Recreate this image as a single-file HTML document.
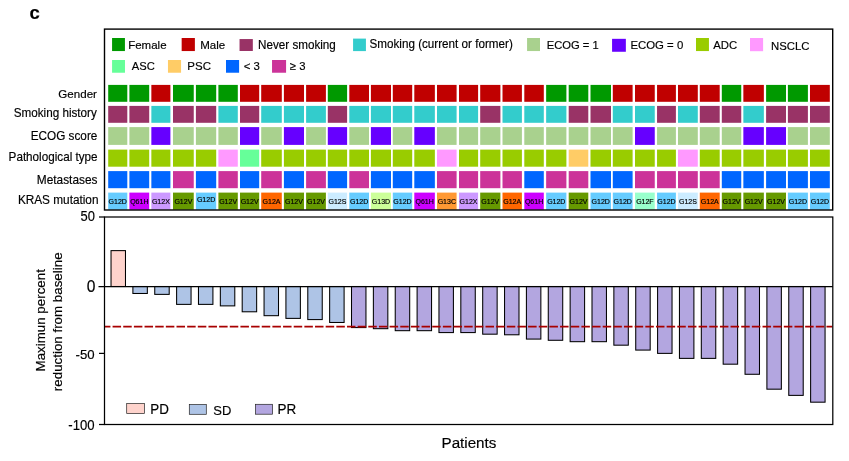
<!DOCTYPE html>
<html lang="en"><head><meta charset="utf-8"><title>Figure c</title>
<style>html,body{margin:0;padding:0;background:#fff}svg{display:block}text{font-family:'Liberation Sans', sans-serif;fill:#000;stroke:#000;stroke-width:0.16px}</style>
</head><body>
<svg width="849" height="461" viewBox="0 0 849 461">
<rect width="849" height="461" fill="#fff"/>
<text transform="translate(29.40,18.95) scale(1,1.01)" font-size="18.5" stroke-width="0" font-weight="bold">c</text>
<rect x="112.07" y="38.00" width="12.86" height="13.06" fill="#009900"/>
<text transform="translate(128.21,48.75) scale(1,1.02)" font-size="11.5">Female</text>
<rect x="181.66" y="38.00" width="13.22" height="13.06" fill="#C00000"/>
<text transform="translate(200.18,48.85) scale(1,1.02)" font-size="11.55">Male</text>
<rect x="239.54" y="39.05" width="13.29" height="11.95" fill="#993366"/>
<text transform="translate(258.12,48.70) scale(1,1.02)" font-size="11.67">Never smoking</text>
<rect x="353.08" y="38.60" width="12.84" height="12.50" fill="#33CCCC"/>
<text transform="translate(369.52,48.00) scale(1,1.02)" font-size="11.68">Smoking (current or former)</text>
<rect x="527.07" y="38.00" width="12.93" height="13.06" fill="#A9D18E"/>
<text transform="translate(546.73,48.90) scale(1,1.02)" font-size="11.2">ECOG = 1</text>
<rect x="612.07" y="38.83" width="13.78" height="12.94" fill="#6600FF"/>
<text transform="translate(630.41,48.85) scale(1,1.02)" font-size="11.39">ECOG = 0</text>
<rect x="696.00" y="38.00" width="12.94" height="13.06" fill="#99CC00"/>
<text transform="translate(713.30,48.90) scale(1,1.02)" font-size="11.35">ADC</text>
<rect x="750.00" y="38.00" width="13.10" height="13.20" fill="#FF99FF"/>
<text transform="translate(770.98,49.50) scale(1,1.02)" font-size="11.36">NSCLC</text>
<rect x="112.07" y="60.00" width="12.91" height="12.73" fill="#66FF99"/>
<text transform="translate(131.80,69.90) scale(1,1.02)" font-size="11.2">ASC</text>
<rect x="167.96" y="60.00" width="13.10" height="12.73" fill="#FFCC66"/>
<text transform="translate(187.30,69.90) scale(1,1.02)" font-size="11.5">PSC</text>
<rect x="226.00" y="60.00" width="13.10" height="12.73" fill="#0066FF"/>
<text transform="translate(243.63,69.90) scale(1,1.02)" font-size="11.36">&lt; 3</text>
<rect x="272.04" y="60.00" width="14.04" height="12.73" fill="#CC3399"/>
<text transform="translate(289.83,69.90) scale(1,1.02)" font-size="11.3">≥ 3</text>
<text transform="translate(58.37,97.80) scale(1,1.02)" font-size="11.59">Gender</text>
<text transform="translate(13.72,117.40) scale(1,1.02)" font-size="11.7">Smoking history</text>
<text transform="translate(30.78,139.70) scale(1,1.02)" font-size="11.75">ECOG score</text>
<text transform="translate(8.59,161.00) scale(1,1.02)" font-size="11.7">Pathological type</text>
<text transform="translate(36.77,183.70) scale(1,1.02)" font-size="11.89">Metastases</text>
<text transform="translate(17.88,203.70) scale(1,1.02)" font-size="11.81">KRAS mutation</text>
<g>
<rect x="108.20" y="84.9" width="19.10" height="16.9" fill="#009900"/>
<rect x="129.40" y="84.9" width="19.80" height="16.9" fill="#009900"/>
<rect x="151.35" y="84.9" width="19.05" height="16.9" fill="#C00000"/>
<rect x="173.00" y="84.9" width="20.75" height="16.9" fill="#009900"/>
<rect x="195.90" y="84.9" width="20.30" height="16.9" fill="#009900"/>
<rect x="218.40" y="84.9" width="19.40" height="16.9" fill="#009900"/>
<rect x="240.00" y="84.9" width="19.20" height="16.9" fill="#C00000"/>
<rect x="261.20" y="84.9" width="20.60" height="16.9" fill="#C00000"/>
<rect x="283.90" y="84.9" width="20.10" height="16.9" fill="#C00000"/>
<rect x="306.10" y="84.9" width="19.80" height="16.9" fill="#C00000"/>
<rect x="327.80" y="84.9" width="19.30" height="16.9" fill="#009900"/>
<rect x="349.30" y="84.9" width="19.70" height="16.9" fill="#C00000"/>
<rect x="370.90" y="84.9" width="20.10" height="16.9" fill="#C00000"/>
<rect x="392.80" y="84.9" width="19.40" height="16.9" fill="#C00000"/>
<rect x="414.30" y="84.9" width="20.55" height="16.9" fill="#C00000"/>
<rect x="437.00" y="84.9" width="19.60" height="16.9" fill="#C00000"/>
<rect x="459.00" y="84.9" width="19.10" height="16.9" fill="#C00000"/>
<rect x="480.20" y="84.9" width="20.20" height="16.9" fill="#C00000"/>
<rect x="502.50" y="84.9" width="19.40" height="16.9" fill="#C00000"/>
<rect x="524.30" y="84.9" width="19.50" height="16.9" fill="#C00000"/>
<rect x="546.15" y="84.9" width="20.25" height="16.9" fill="#009900"/>
<rect x="568.70" y="84.9" width="19.60" height="16.9" fill="#009900"/>
<rect x="590.50" y="84.9" width="20.50" height="16.9" fill="#009900"/>
<rect x="612.80" y="84.9" width="19.80" height="16.9" fill="#C00000"/>
<rect x="635.00" y="84.9" width="19.75" height="16.9" fill="#C00000"/>
<rect x="657.05" y="84.9" width="18.85" height="16.9" fill="#C00000"/>
<rect x="678.00" y="84.9" width="19.80" height="16.9" fill="#C00000"/>
<rect x="699.80" y="84.9" width="19.90" height="16.9" fill="#C00000"/>
<rect x="721.80" y="84.9" width="19.45" height="16.9" fill="#009900"/>
<rect x="743.35" y="84.9" width="20.50" height="16.9" fill="#C00000"/>
<rect x="766.10" y="84.9" width="19.90" height="16.9" fill="#009900"/>
<rect x="787.90" y="84.9" width="20.00" height="16.9" fill="#009900"/>
<rect x="810.00" y="84.9" width="19.80" height="16.9" fill="#C00000"/>
</g>
<g>
<rect x="108.20" y="105.9" width="19.10" height="16.9" fill="#993366"/>
<rect x="129.40" y="105.9" width="19.80" height="16.9" fill="#993366"/>
<rect x="151.35" y="105.9" width="19.05" height="16.9" fill="#33CCCC"/>
<rect x="173.00" y="105.9" width="20.75" height="16.9" fill="#993366"/>
<rect x="195.90" y="105.9" width="20.30" height="16.9" fill="#993366"/>
<rect x="218.40" y="105.9" width="19.40" height="16.9" fill="#33CCCC"/>
<rect x="240.00" y="105.9" width="19.20" height="16.9" fill="#993366"/>
<rect x="261.20" y="105.9" width="20.60" height="16.9" fill="#33CCCC"/>
<rect x="283.90" y="105.9" width="20.10" height="16.9" fill="#33CCCC"/>
<rect x="306.10" y="105.9" width="19.80" height="16.9" fill="#33CCCC"/>
<rect x="327.80" y="105.9" width="19.30" height="16.9" fill="#993366"/>
<rect x="349.30" y="105.9" width="19.70" height="16.9" fill="#33CCCC"/>
<rect x="370.90" y="105.9" width="20.10" height="16.9" fill="#33CCCC"/>
<rect x="392.80" y="105.9" width="19.40" height="16.9" fill="#33CCCC"/>
<rect x="414.30" y="105.9" width="20.55" height="16.9" fill="#33CCCC"/>
<rect x="437.00" y="105.9" width="19.60" height="16.9" fill="#33CCCC"/>
<rect x="459.00" y="105.9" width="19.10" height="16.9" fill="#33CCCC"/>
<rect x="480.20" y="105.9" width="20.20" height="16.9" fill="#993366"/>
<rect x="502.50" y="105.9" width="19.40" height="16.9" fill="#33CCCC"/>
<rect x="524.30" y="105.9" width="19.50" height="16.9" fill="#33CCCC"/>
<rect x="546.15" y="105.9" width="20.25" height="16.9" fill="#33CCCC"/>
<rect x="568.70" y="105.9" width="19.60" height="16.9" fill="#993366"/>
<rect x="590.50" y="105.9" width="20.50" height="16.9" fill="#993366"/>
<rect x="612.80" y="105.9" width="19.80" height="16.9" fill="#33CCCC"/>
<rect x="635.00" y="105.9" width="19.75" height="16.9" fill="#33CCCC"/>
<rect x="657.05" y="105.9" width="18.85" height="16.9" fill="#993366"/>
<rect x="678.00" y="105.9" width="19.80" height="16.9" fill="#33CCCC"/>
<rect x="699.80" y="105.9" width="19.90" height="16.9" fill="#993366"/>
<rect x="721.80" y="105.9" width="19.45" height="16.9" fill="#993366"/>
<rect x="743.35" y="105.9" width="20.50" height="16.9" fill="#33CCCC"/>
<rect x="766.10" y="105.9" width="19.90" height="16.9" fill="#993366"/>
<rect x="787.90" y="105.9" width="20.00" height="16.9" fill="#993366"/>
<rect x="810.00" y="105.9" width="19.80" height="16.9" fill="#993366"/>
</g>
<g>
<rect x="108.20" y="127.1" width="19.10" height="17.8" fill="#A9D18E"/>
<rect x="129.40" y="127.1" width="19.80" height="17.8" fill="#A9D18E"/>
<rect x="151.35" y="127.1" width="19.05" height="17.8" fill="#6600FF"/>
<rect x="173.00" y="127.1" width="20.75" height="17.8" fill="#A9D18E"/>
<rect x="195.90" y="127.1" width="20.30" height="17.8" fill="#A9D18E"/>
<rect x="218.40" y="127.1" width="19.40" height="17.8" fill="#A9D18E"/>
<rect x="240.00" y="127.1" width="19.20" height="17.8" fill="#6600FF"/>
<rect x="261.20" y="127.1" width="20.60" height="17.8" fill="#A9D18E"/>
<rect x="283.90" y="127.1" width="20.10" height="17.8" fill="#6600FF"/>
<rect x="306.10" y="127.1" width="19.80" height="17.8" fill="#A9D18E"/>
<rect x="327.80" y="127.1" width="19.30" height="17.8" fill="#6600FF"/>
<rect x="349.30" y="127.1" width="19.70" height="17.8" fill="#A9D18E"/>
<rect x="370.90" y="127.1" width="20.10" height="17.8" fill="#6600FF"/>
<rect x="392.80" y="127.1" width="19.40" height="17.8" fill="#A9D18E"/>
<rect x="414.30" y="127.1" width="20.55" height="17.8" fill="#6600FF"/>
<rect x="437.00" y="127.1" width="19.60" height="17.8" fill="#A9D18E"/>
<rect x="459.00" y="127.1" width="19.10" height="17.8" fill="#A9D18E"/>
<rect x="480.20" y="127.1" width="20.20" height="17.8" fill="#A9D18E"/>
<rect x="502.50" y="127.1" width="19.40" height="17.8" fill="#A9D18E"/>
<rect x="524.30" y="127.1" width="19.50" height="17.8" fill="#A9D18E"/>
<rect x="546.15" y="127.1" width="20.25" height="17.8" fill="#A9D18E"/>
<rect x="568.70" y="127.1" width="19.60" height="17.8" fill="#A9D18E"/>
<rect x="590.50" y="127.1" width="20.50" height="17.8" fill="#A9D18E"/>
<rect x="612.80" y="127.1" width="19.80" height="17.8" fill="#A9D18E"/>
<rect x="635.00" y="127.1" width="19.75" height="17.8" fill="#6600FF"/>
<rect x="657.05" y="127.1" width="18.85" height="17.8" fill="#A9D18E"/>
<rect x="678.00" y="127.1" width="19.80" height="17.8" fill="#A9D18E"/>
<rect x="699.80" y="127.1" width="19.90" height="17.8" fill="#A9D18E"/>
<rect x="721.80" y="127.1" width="19.45" height="17.8" fill="#A9D18E"/>
<rect x="743.35" y="127.1" width="20.50" height="17.8" fill="#6600FF"/>
<rect x="766.10" y="127.1" width="19.90" height="17.8" fill="#6600FF"/>
<rect x="787.90" y="127.1" width="20.00" height="17.8" fill="#A9D18E"/>
<rect x="810.00" y="127.1" width="19.80" height="17.8" fill="#A9D18E"/>
</g>
<g>
<rect x="108.20" y="149.6" width="19.10" height="17.1" fill="#99CC00"/>
<rect x="129.40" y="149.6" width="19.80" height="17.1" fill="#99CC00"/>
<rect x="151.35" y="149.6" width="19.05" height="17.1" fill="#99CC00"/>
<rect x="173.00" y="149.6" width="20.75" height="17.1" fill="#99CC00"/>
<rect x="195.90" y="149.6" width="20.30" height="17.1" fill="#99CC00"/>
<rect x="218.40" y="149.6" width="19.40" height="17.1" fill="#FF99FF"/>
<rect x="240.00" y="149.6" width="19.20" height="17.1" fill="#66FF99"/>
<rect x="261.20" y="149.6" width="20.60" height="17.1" fill="#99CC00"/>
<rect x="283.90" y="149.6" width="20.10" height="17.1" fill="#99CC00"/>
<rect x="306.10" y="149.6" width="19.80" height="17.1" fill="#99CC00"/>
<rect x="327.80" y="149.6" width="19.30" height="17.1" fill="#99CC00"/>
<rect x="349.30" y="149.6" width="19.70" height="17.1" fill="#99CC00"/>
<rect x="370.90" y="149.6" width="20.10" height="17.1" fill="#99CC00"/>
<rect x="392.80" y="149.6" width="19.40" height="17.1" fill="#99CC00"/>
<rect x="414.30" y="149.6" width="20.55" height="17.1" fill="#99CC00"/>
<rect x="437.00" y="149.6" width="19.60" height="17.1" fill="#FF99FF"/>
<rect x="459.00" y="149.6" width="19.10" height="17.1" fill="#99CC00"/>
<rect x="480.20" y="149.6" width="20.20" height="17.1" fill="#99CC00"/>
<rect x="502.50" y="149.6" width="19.40" height="17.1" fill="#99CC00"/>
<rect x="524.30" y="149.6" width="19.50" height="17.1" fill="#99CC00"/>
<rect x="546.15" y="149.6" width="20.25" height="17.1" fill="#99CC00"/>
<rect x="568.70" y="149.6" width="19.60" height="17.1" fill="#FFCC66"/>
<rect x="590.50" y="149.6" width="20.50" height="17.1" fill="#99CC00"/>
<rect x="612.80" y="149.6" width="19.80" height="17.1" fill="#99CC00"/>
<rect x="635.00" y="149.6" width="19.75" height="17.1" fill="#99CC00"/>
<rect x="657.05" y="149.6" width="18.85" height="17.1" fill="#99CC00"/>
<rect x="678.00" y="149.6" width="19.80" height="17.1" fill="#FF99FF"/>
<rect x="699.80" y="149.6" width="19.90" height="17.1" fill="#99CC00"/>
<rect x="721.80" y="149.6" width="19.45" height="17.1" fill="#99CC00"/>
<rect x="743.35" y="149.6" width="20.50" height="17.1" fill="#99CC00"/>
<rect x="766.10" y="149.6" width="19.90" height="17.1" fill="#99CC00"/>
<rect x="787.90" y="149.6" width="20.00" height="17.1" fill="#99CC00"/>
<rect x="810.00" y="149.6" width="19.80" height="17.1" fill="#99CC00"/>
</g>
<g>
<rect x="108.20" y="171.1" width="19.10" height="17.1" fill="#0066FF"/>
<rect x="129.40" y="171.1" width="19.80" height="17.1" fill="#0066FF"/>
<rect x="151.35" y="171.1" width="19.05" height="17.1" fill="#0066FF"/>
<rect x="173.00" y="171.1" width="20.75" height="17.1" fill="#CC3399"/>
<rect x="195.90" y="171.1" width="20.30" height="17.1" fill="#0066FF"/>
<rect x="218.40" y="171.1" width="19.40" height="17.1" fill="#CC3399"/>
<rect x="240.00" y="171.1" width="19.20" height="17.1" fill="#0066FF"/>
<rect x="261.20" y="171.1" width="20.60" height="17.1" fill="#CC3399"/>
<rect x="283.90" y="171.1" width="20.10" height="17.1" fill="#0066FF"/>
<rect x="306.10" y="171.1" width="19.80" height="17.1" fill="#CC3399"/>
<rect x="327.80" y="171.1" width="19.30" height="17.1" fill="#0066FF"/>
<rect x="349.30" y="171.1" width="19.70" height="17.1" fill="#CC3399"/>
<rect x="370.90" y="171.1" width="20.10" height="17.1" fill="#0066FF"/>
<rect x="392.80" y="171.1" width="19.40" height="17.1" fill="#0066FF"/>
<rect x="414.30" y="171.1" width="20.55" height="17.1" fill="#0066FF"/>
<rect x="437.00" y="171.1" width="19.60" height="17.1" fill="#CC3399"/>
<rect x="459.00" y="171.1" width="19.10" height="17.1" fill="#CC3399"/>
<rect x="480.20" y="171.1" width="20.20" height="17.1" fill="#CC3399"/>
<rect x="502.50" y="171.1" width="19.40" height="17.1" fill="#CC3399"/>
<rect x="524.30" y="171.1" width="19.50" height="17.1" fill="#0066FF"/>
<rect x="546.15" y="171.1" width="20.25" height="17.1" fill="#CC3399"/>
<rect x="568.70" y="171.1" width="19.60" height="17.1" fill="#CC3399"/>
<rect x="590.50" y="171.1" width="20.50" height="17.1" fill="#0066FF"/>
<rect x="612.80" y="171.1" width="19.80" height="17.1" fill="#0066FF"/>
<rect x="635.00" y="171.1" width="19.75" height="17.1" fill="#CC3399"/>
<rect x="657.05" y="171.1" width="18.85" height="17.1" fill="#CC3399"/>
<rect x="678.00" y="171.1" width="19.80" height="17.1" fill="#CC3399"/>
<rect x="699.80" y="171.1" width="19.90" height="17.1" fill="#CC3399"/>
<rect x="721.80" y="171.1" width="19.45" height="17.1" fill="#0066FF"/>
<rect x="743.35" y="171.1" width="20.50" height="17.1" fill="#0066FF"/>
<rect x="766.10" y="171.1" width="19.90" height="17.1" fill="#0066FF"/>
<rect x="787.90" y="171.1" width="20.00" height="17.1" fill="#0066FF"/>
<rect x="810.00" y="171.1" width="19.80" height="17.1" fill="#0066FF"/>
</g>
<g>
<rect x="108.20" y="192.6" width="19.10" height="17.1" fill="#66CCFF"/>
<rect x="129.40" y="192.6" width="19.80" height="17.1" fill="#CC00FF"/>
<rect x="151.35" y="192.6" width="19.05" height="17.1" fill="#CC99FF"/>
<rect x="173.00" y="192.6" width="20.75" height="17.1" fill="#669900"/>
<rect x="195.90" y="192.6" width="20.30" height="17.1" fill="#66CCFF"/>
<rect x="218.40" y="192.6" width="19.40" height="17.1" fill="#669900"/>
<rect x="240.00" y="192.6" width="19.20" height="17.1" fill="#669900"/>
<rect x="261.20" y="192.6" width="20.60" height="17.1" fill="#FF6600"/>
<rect x="283.90" y="192.6" width="20.10" height="17.1" fill="#669900"/>
<rect x="306.10" y="192.6" width="19.80" height="17.1" fill="#669900"/>
<rect x="327.80" y="192.6" width="19.30" height="17.1" fill="#CCECFF"/>
<rect x="349.30" y="192.6" width="19.70" height="17.1" fill="#66CCFF"/>
<rect x="370.90" y="192.6" width="20.10" height="17.1" fill="#CCFF99"/>
<rect x="392.80" y="192.6" width="19.40" height="17.1" fill="#66CCFF"/>
<rect x="414.30" y="192.6" width="20.55" height="17.1" fill="#CC00FF"/>
<rect x="437.00" y="192.6" width="19.60" height="17.1" fill="#FF9933"/>
<rect x="459.00" y="192.6" width="19.10" height="17.1" fill="#CC99FF"/>
<rect x="480.20" y="192.6" width="20.20" height="17.1" fill="#669900"/>
<rect x="502.50" y="192.6" width="19.40" height="17.1" fill="#FF6600"/>
<rect x="524.30" y="192.6" width="19.50" height="17.1" fill="#CC00FF"/>
<rect x="546.15" y="192.6" width="20.25" height="17.1" fill="#66CCFF"/>
<rect x="568.70" y="192.6" width="19.60" height="17.1" fill="#669900"/>
<rect x="590.50" y="192.6" width="20.50" height="17.1" fill="#66CCFF"/>
<rect x="612.80" y="192.6" width="19.80" height="17.1" fill="#66CCFF"/>
<rect x="635.00" y="192.6" width="19.75" height="17.1" fill="#99FFCC"/>
<rect x="657.05" y="192.6" width="18.85" height="17.1" fill="#66CCFF"/>
<rect x="678.00" y="192.6" width="19.80" height="17.1" fill="#CCECFF"/>
<rect x="699.80" y="192.6" width="19.90" height="17.1" fill="#FF6600"/>
<rect x="721.80" y="192.6" width="19.45" height="17.1" fill="#669900"/>
<rect x="743.35" y="192.6" width="20.50" height="17.1" fill="#669900"/>
<rect x="766.10" y="192.6" width="19.90" height="17.1" fill="#669900"/>
<rect x="787.90" y="192.6" width="20.00" height="17.1" fill="#66CCFF"/>
<rect x="810.00" y="192.6" width="19.80" height="17.1" fill="#66CCFF"/>
</g>
<g font-size="7" text-anchor="middle">
<text transform="translate(117.75,204.30)" font-size="7" text-anchor="middle">G12D</text>
<text transform="translate(139.30,204.30)" font-size="7" text-anchor="middle">Q61H</text>
<text transform="translate(160.88,204.30)" font-size="7" text-anchor="middle">G12X</text>
<text transform="translate(183.38,204.30)" font-size="7" text-anchor="middle">G12V</text>
<text transform="translate(206.05,201.80)" font-size="7" text-anchor="middle">G12D</text>
<text transform="translate(228.10,204.30)" font-size="7" text-anchor="middle">G12V</text>
<text transform="translate(249.60,204.30)" font-size="7" text-anchor="middle">G12V</text>
<text transform="translate(271.50,204.30)" font-size="7" text-anchor="middle">G12A</text>
<text transform="translate(293.95,204.30)" font-size="7" text-anchor="middle">G12V</text>
<text transform="translate(316.00,204.30)" font-size="7" text-anchor="middle">G12V</text>
<text transform="translate(337.45,204.30)" font-size="7" text-anchor="middle">G12S</text>
<text transform="translate(359.15,204.30)" font-size="7" text-anchor="middle">G12D</text>
<text transform="translate(380.95,204.30)" font-size="7" text-anchor="middle">G13D</text>
<text transform="translate(402.50,204.30)" font-size="7" text-anchor="middle">G12D</text>
<text transform="translate(424.58,204.30)" font-size="7" text-anchor="middle">Q61H</text>
<text transform="translate(446.80,204.30)" font-size="7" text-anchor="middle">G13C</text>
<text transform="translate(468.55,204.30)" font-size="7" text-anchor="middle">G12X</text>
<text transform="translate(490.30,204.30)" font-size="7" text-anchor="middle">G12V</text>
<text transform="translate(512.20,204.30)" font-size="7" text-anchor="middle">G12A</text>
<text transform="translate(534.05,204.30)" font-size="7" text-anchor="middle">Q61H</text>
<text transform="translate(556.27,204.30)" font-size="7" text-anchor="middle">G12D</text>
<text transform="translate(578.50,204.30)" font-size="7" text-anchor="middle">G12V</text>
<text transform="translate(600.75,204.30)" font-size="7" text-anchor="middle">G12D</text>
<text transform="translate(622.70,204.30)" font-size="7" text-anchor="middle">G12D</text>
<text transform="translate(644.88,204.30)" font-size="7" text-anchor="middle">G12F</text>
<text transform="translate(666.47,204.30)" font-size="7" text-anchor="middle">G12D</text>
<text transform="translate(687.90,204.30)" font-size="7" text-anchor="middle">G12S</text>
<text transform="translate(709.75,204.30)" font-size="7" text-anchor="middle">G12A</text>
<text transform="translate(731.52,204.30)" font-size="7" text-anchor="middle">G12V</text>
<text transform="translate(753.60,204.30)" font-size="7" text-anchor="middle">G12V</text>
<text transform="translate(776.05,204.30)" font-size="7" text-anchor="middle">G12V</text>
<text transform="translate(797.90,204.30)" font-size="7" text-anchor="middle">G12D</text>
<text transform="translate(819.90,204.30)" font-size="7" text-anchor="middle">G12D</text>
</g>
<rect x="104.5" y="29.1" width="728.2" height="180.9" fill="none" stroke="#000" stroke-width="1.4"/>
<g stroke="#000" stroke-width="1.05">
<rect x="111.03" y="250.62" width="14.45" height="35.88" fill="#FED3CC"/>
<rect x="132.89" y="286.50" width="14.45" height="6.98" fill="#AEC4E6"/>
<rect x="154.75" y="286.50" width="14.45" height="7.88" fill="#AEC4E6"/>
<rect x="176.61" y="286.50" width="14.45" height="17.88" fill="#AEC4E6"/>
<rect x="198.47" y="286.50" width="14.45" height="17.88" fill="#AEC4E6"/>
<rect x="220.34" y="286.50" width="14.45" height="19.38" fill="#AEC4E6"/>
<rect x="242.20" y="286.50" width="14.45" height="25.28" fill="#AEC4E6"/>
<rect x="264.06" y="286.50" width="14.45" height="29.18" fill="#AEC4E6"/>
<rect x="285.92" y="286.50" width="14.45" height="31.88" fill="#AEC4E6"/>
<rect x="307.79" y="286.50" width="14.45" height="33.08" fill="#AEC4E6"/>
<rect x="329.65" y="286.50" width="14.45" height="35.98" fill="#AEC4E6"/>
<rect x="351.51" y="286.50" width="14.45" height="41.08" fill="#B3A6E0"/>
<rect x="373.38" y="286.50" width="14.45" height="42.18" fill="#B3A6E0"/>
<rect x="395.24" y="286.50" width="14.45" height="44.18" fill="#B3A6E0"/>
<rect x="417.10" y="286.50" width="14.45" height="44.18" fill="#B3A6E0"/>
<rect x="438.96" y="286.50" width="14.45" height="46.08" fill="#B3A6E0"/>
<rect x="460.82" y="286.50" width="14.45" height="46.08" fill="#B3A6E0"/>
<rect x="482.69" y="286.50" width="14.45" height="47.68" fill="#B3A6E0"/>
<rect x="504.55" y="286.50" width="14.45" height="48.28" fill="#B3A6E0"/>
<rect x="526.41" y="286.50" width="14.45" height="52.58" fill="#B3A6E0"/>
<rect x="548.27" y="286.50" width="14.45" height="53.78" fill="#B3A6E0"/>
<rect x="570.14" y="286.50" width="14.45" height="55.18" fill="#B3A6E0"/>
<rect x="592.00" y="286.50" width="14.45" height="55.18" fill="#B3A6E0"/>
<rect x="613.86" y="286.50" width="14.45" height="58.68" fill="#B3A6E0"/>
<rect x="635.73" y="286.50" width="14.45" height="63.58" fill="#B3A6E0"/>
<rect x="657.59" y="286.50" width="14.45" height="66.88" fill="#B3A6E0"/>
<rect x="679.45" y="286.50" width="14.45" height="71.88" fill="#B3A6E0"/>
<rect x="701.31" y="286.50" width="14.45" height="71.88" fill="#B3A6E0"/>
<rect x="723.17" y="286.50" width="14.45" height="77.68" fill="#B3A6E0"/>
<rect x="745.04" y="286.50" width="14.45" height="87.78" fill="#B3A6E0"/>
<rect x="766.90" y="286.50" width="14.45" height="102.68" fill="#B3A6E0"/>
<rect x="788.76" y="286.50" width="14.45" height="108.88" fill="#B3A6E0"/>
<rect x="810.62" y="286.50" width="14.45" height="115.68" fill="#B3A6E0"/>
</g>
<line x1="105" y1="326.6" x2="832.3" y2="326.6" stroke="#A80000" stroke-width="1.65" stroke-dasharray="8.5 2.155" stroke-dashoffset="3.08"/>
<g stroke="#000" stroke-width="1.25" fill="none">
<rect x="104.5" y="217" width="728.3" height="207.5"/>
<line x1="99" y1="217" x2="104.6" y2="217"/>
<line x1="98.5" y1="286.5" x2="832.8" y2="286.5"/>
<line x1="99" y1="353.4" x2="104.6" y2="353.4"/>
<line x1="99" y1="424.5" x2="104.6" y2="424.5"/>
</g>
<g text-anchor="end">
<text transform="translate(94.87,221.15) scale(1,1.09)" font-size="12.95" stroke-width="0.08">50</text>
<text transform="translate(95.40,291.60) scale(1,1.04)" font-size="15.6" stroke-width="0">0</text>
<text transform="translate(94.65,359.10) scale(1,1.01)" font-size="13.2" stroke-width="0.08">-50</text>
<text transform="translate(94.66,429.70) scale(1,1.09)" font-size="13.15" stroke-width="0.08">-100</text>
</g>
<text transform="translate(44.90,320.30) rotate(-90)" font-size="13.35" text-anchor="middle" stroke-width="0.1">Maximun percent</text>
<text transform="translate(62.30,321.80) rotate(-90)" font-size="13.35" text-anchor="middle" stroke-width="0.1">reduction from baseline</text>
<text transform="translate(441.50,447.50) scale(1,0.98)" font-size="15.2" stroke-width="0.1">Patients</text>
<g stroke="#222" stroke-width="0.7">
<rect x="126.7" y="403.5" width="17.7" height="10.1" fill="#FED3CC"/>
<rect x="189.3" y="404.5" width="17.0" height="9.8" fill="#AEC4E6"/>
<rect x="255.5" y="404.3" width="17.0" height="9.9" fill="#B3A6E0"/>
</g>
<text transform="translate(150.24,413.60) scale(1,1.04)" font-size="13.4" stroke-width="0.1">PD</text>
<text transform="translate(213.37,414.60) scale(1,1.04)" font-size="13.0" stroke-width="0.1">SD</text>
<text transform="translate(277.43,413.80) scale(1,1.04)" font-size="13.5" stroke-width="0.1">PR</text>
</svg>
</body></html>
